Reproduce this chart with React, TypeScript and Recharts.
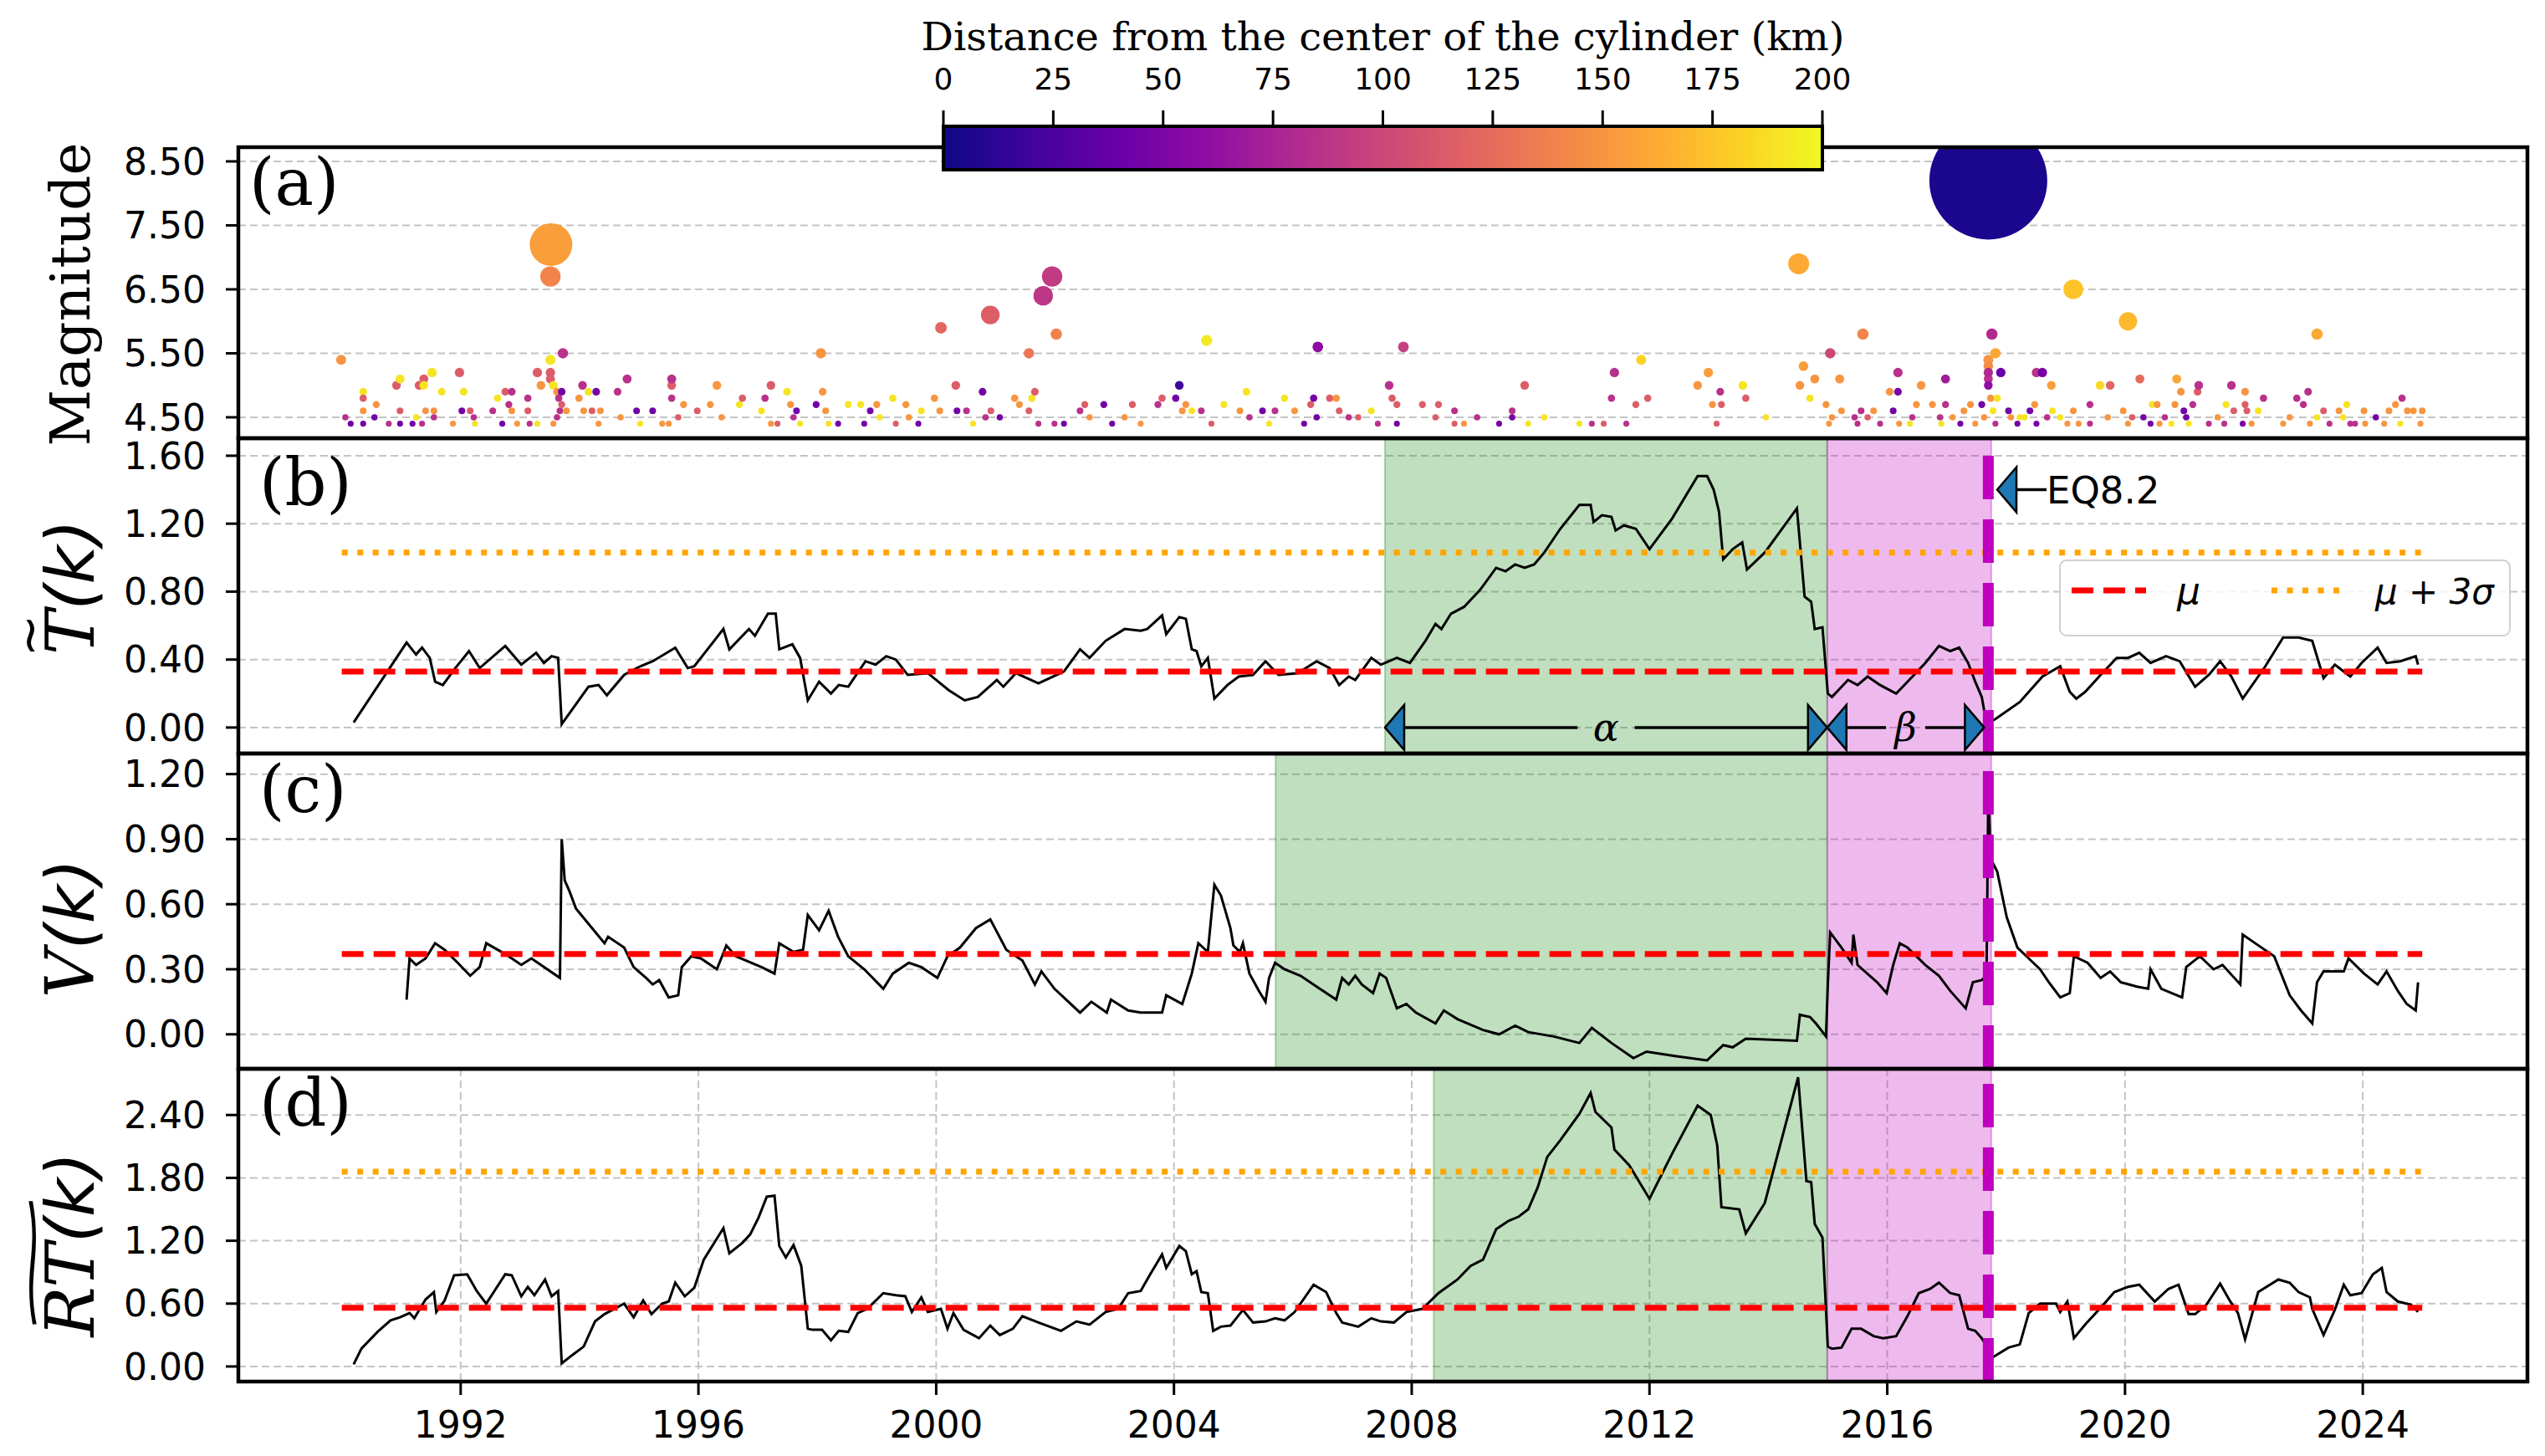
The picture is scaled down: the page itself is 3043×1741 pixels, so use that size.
import React from 'react'
import {
  CartesianGrid, Line, LineChart, ReferenceArea, ReferenceDot, ReferenceLine,
  Scatter, ScatterChart, XAxis, YAxis,
} from 'recharts'

// ---- data ----

const YEAR_TICKS = [1992, 1996, 2000, 2004, 2008, 2012, 2016, 2020, 2024]
const MAG_TICKS = [4.5, 5.5, 6.5, 7.5, 8.5]
const T_TICKS = [0, 0.4, 0.8, 1.2, 1.6]
const V_TICKS = [0, 0.3, 0.6, 0.9, 1.2]
const RT_TICKS = [0, 0.6, 1.2, 1.8, 2.4]
const DIST_TICKS = [0, 25, 50, 75, 100, 125, 150, 175, 200]

// earthquakes: [decimal year, magnitude, distance from cylinder centre (km)]
const quakes1990s = [
  [1989.99, 5.4, 150], [1990.06, 4.5, 85], [1990.15, 4.4, 45], [1990.36, 4.4, 45], [1990.36, 4.9, 190], [1990.36, 4.8, 115],
  [1990.36, 4.6, 150], [1990.55, 4.5, 45], [1990.58, 4.7, 150], [1990.79, 4.4, 85], [1990.92, 5.0, 115], [1990.98, 5.1, 190],
  [1990.98, 4.6, 115], [1990.98, 4.4, 45], [1991.19, 4.4, 45], [1991.25, 4.5, 190], [1991.30, 5.0, 115], [1991.38, 5.1, 115],
  [1991.38, 5.0, 190], [1991.35, 4.4, 85], [1991.41, 4.6, 150], [1991.52, 5.2, 190], [1991.55, 4.6, 150], [1991.55, 4.5, 85],
  [1991.68, 4.9, 190], [1991.87, 4.4, 150], [1991.98, 5.2, 115], [1992.02, 4.6, 45], [1992.05, 4.9, 190], [1992.16, 4.6, 115],
  [1992.22, 4.5, 85], [1992.24, 4.4, 190], [1992.54, 4.6, 85], [1992.62, 4.8, 190], [1992.70, 4.4, 45], [1992.75, 4.9, 115],
  [1992.81, 4.7, 85], [1992.86, 4.6, 150], [1992.86, 4.9, 85], [1992.95, 4.4, 150], [1993.13, 4.8, 85], [1993.13, 4.6, 115],
  [1993.16, 4.4, 85], [1993.29, 5.2, 115], [1993.29, 4.4, 190], [1993.35, 5.0, 150], [1993.51, 5.2, 115], [1993.51, 5.1, 115],
  [1993.51, 5.4, 190], [1993.56, 5.0, 190], [1993.56, 4.4, 150], [1993.62, 4.9, 150], [1993.62, 4.5, 85], [1993.65, 4.8, 85],
  [1993.67, 4.6, 85], [1993.70, 4.9, 45], [1993.70, 4.7, 115], [1993.72, 5.5, 85], [1993.78, 4.6, 150], [1993.51, 6.7, 140],
  [1993.52, 7.2, 155], [1993.99, 4.8, 150], [1994.05, 5.0, 85], [1994.07, 4.6, 150], [1994.15, 4.9, 190], [1994.21, 4.6, 115],
  [1994.28, 4.9, 45], [1994.32, 4.4, 150], [1994.35, 4.6, 150], [1994.64, 4.9, 85], [1994.69, 4.5, 150], [1994.80, 5.1, 85],
  [1994.96, 4.6, 45], [1995.02, 4.4, 190], [1995.23, 4.6, 45], [1995.39, 4.4, 150], [1995.50, 4.4, 150], [1995.55, 5.0, 115],
  [1995.55, 5.1, 85], [1995.55, 4.8, 85], [1995.66, 4.5, 115], [1995.75, 4.7, 150], [1995.98, 4.6, 115], [1996.20, 4.7, 150],
  [1996.31, 5.0, 150], [1996.39, 4.5, 150], [1996.69, 4.7, 190], [1996.74, 4.8, 115], [1997.06, 4.6, 190], [1997.12, 4.8, 85],
  [1997.22, 5.0, 115], [1997.22, 4.4, 150], [1997.33, 4.4, 115], [1997.49, 4.9, 190], [1997.55, 4.7, 150], [1997.60, 4.5, 85],
  [1997.65, 4.6, 45], [1997.71, 4.4, 190], [1997.98, 4.7, 45], [1998.06, 5.5, 150], [1998.09, 4.9, 150], [1998.14, 4.6, 150],
  [1998.19, 4.4, 190], [1998.35, 4.4, 45], [1998.52, 4.7, 190], [1998.73, 4.7, 190], [1998.79, 4.4, 45], [1998.89, 4.6, 45],
  [1999.00, 4.7, 150], [1999.05, 4.5, 190], [1999.27, 4.8, 190], [1999.32, 4.4, 115], [1999.49, 4.7, 150], [1999.54, 4.5, 150],
  [1999.70, 4.4, 45], [1999.75, 4.6, 190], [1999.97, 4.8, 150],
]

const quakes2000s = [
  [2000.06, 4.6, 150], [2000.08, 5.9, 122], [2000.33, 5.0, 115], [2000.35, 4.6, 45], [2000.51, 4.6, 85], [2000.62, 4.4, 190],
  [2000.78, 4.9, 45], [2000.83, 4.5, 85], [2000.92, 4.6, 115], [2000.91, 6.1, 116], [2001.07, 4.5, 45], [2001.32, 4.8, 150],
  [2001.40, 4.7, 150], [2001.56, 4.6, 115], [2001.56, 5.5, 132], [2001.61, 4.8, 190], [2001.66, 4.9, 115], [2001.72, 4.4, 85],
  [2001.80, 6.4, 88], [2001.95, 6.7, 92], [2002.02, 5.8, 138], [2001.99, 4.4, 85], [2002.15, 4.4, 45], [2002.42, 4.6, 85],
  [2002.50, 4.7, 115], [2002.58, 4.5, 150], [2002.82, 4.7, 45], [2002.96, 4.4, 45], [2003.17, 4.5, 150], [2003.30, 4.7, 115],
  [2003.44, 4.4, 150], [2003.73, 4.7, 85], [2003.80, 4.8, 115], [2004.03, 4.8, 45], [2004.09, 5.0, 20], [2004.14, 4.6, 150],
  [2004.20, 4.7, 150], [2004.30, 4.6, 190], [2004.46, 4.6, 85], [2004.55, 5.7, 192], [2004.63, 4.4, 115], [2004.84, 4.7, 190],
  [2005.11, 4.6, 150], [2005.22, 4.9, 190], [2005.27, 4.5, 85], [2005.49, 4.6, 45], [2005.60, 4.4, 190], [2005.70, 4.6, 85],
  [2005.86, 4.8, 190], [2006.03, 4.6, 150], [2006.19, 4.4, 45], [2006.30, 4.7, 115], [2006.35, 4.8, 45], [2006.40, 4.5, 45],
  [2006.42, 5.6, 60], [2006.62, 4.8, 115], [2006.73, 4.8, 150], [2006.78, 4.6, 115], [2006.94, 4.5, 85], [2007.10, 4.5, 115],
  [2007.32, 4.6, 190], [2007.43, 4.4, 85], [2007.62, 5.0, 85], [2007.67, 4.8, 115], [2007.75, 4.7, 115], [2007.75, 4.4, 45],
  [2007.86, 5.6, 95], [2008.18, 4.7, 115], [2008.40, 4.5, 115], [2008.45, 4.7, 115], [2008.72, 4.6, 85], [2008.72, 4.4, 115],
  [2008.88, 4.4, 150], [2009.10, 4.5, 85], [2009.47, 4.4, 45], [2009.69, 4.6, 85], [2009.69, 4.5, 45], [2009.90, 5.0, 115],
  [2009.96, 4.4, 190],
]

const quakes2010s = [
  [2010.23, 4.5, 190], [2010.82, 4.4, 190], [2011.03, 4.4, 85], [2011.23, 4.4, 115], [2011.36, 4.8, 85], [2011.41, 5.2, 85],
  [2011.61, 4.4, 85], [2011.77, 4.7, 115], [2011.86, 5.4, 182], [2011.97, 4.8, 115], [2012.81, 5.0, 150], [2012.99, 5.2, 155],
  [2013.06, 4.7, 150], [2013.13, 4.4, 115], [2013.19, 4.9, 85], [2013.21, 4.7, 115], [2013.57, 5.0, 190], [2013.62, 4.8, 115],
  [2013.96, 4.5, 190], [2014.51, 6.9, 162], [2014.53, 5.0, 150], [2014.59, 5.3, 155], [2014.70, 4.8, 190], [2014.78, 5.1, 150],
  [2014.97, 4.7, 150], [2015.02, 4.4, 150], [2015.04, 5.5, 100], [2015.07, 4.5, 150], [2015.20, 5.1, 150], [2015.23, 4.6, 150],
  [2015.45, 4.5, 85], [2015.50, 4.4, 85], [2015.56, 4.6, 85], [2015.59, 5.8, 140], [2015.67, 4.5, 115], [2015.77, 4.6, 150],
  [2015.88, 4.4, 85], [2016.04, 4.9, 150], [2016.10, 4.6, 45], [2016.18, 5.2, 85], [2016.18, 4.9, 45], [2016.20, 4.4, 150],
  [2016.38, 4.4, 190], [2016.42, 4.5, 85], [2016.49, 4.7, 150], [2016.57, 5.0, 150], [2016.76, 4.7, 150], [2016.89, 4.5, 85],
  [2016.91, 4.4, 190], [2016.98, 5.1, 70], [2016.98, 4.7, 85], [2017.10, 4.5, 150], [2017.23, 4.4, 45], [2017.29, 4.6, 150],
  [2017.40, 4.7, 150], [2017.48, 4.4, 150], [2017.59, 4.7, 45], [2017.63, 4.5, 150], [2017.70, 5.4, 150], [2017.70, 5.3, 145],
  [2017.70, 5.1, 85], [2017.70, 5.0, 60], [2017.70, 5.2, 80], [2017.74, 4.8, 150], [2017.76, 5.8, 80], [2017.78, 4.6, 190],
  [2017.82, 5.5, 160], [2017.82, 4.4, 85], [2017.85, 4.8, 190], [2017.91, 5.2, 40], [2018.04, 4.6, 45], [2018.08, 4.5, 150],
  [2018.19, 4.4, 45], [2018.23, 4.5, 190], [2018.31, 4.5, 190], [2018.40, 4.6, 45], [2018.48, 4.7, 150], [2018.51, 5.2, 85],
  [2018.51, 4.4, 45], [2018.61, 5.2, 45], [2018.69, 4.5, 85], [2018.76, 5.0, 155], [2018.78, 4.6, 190], [2018.91, 4.5, 190],
  [2019.03, 4.4, 150], [2019.13, 6.5, 175], [2019.13, 4.6, 150], [2019.22, 4.4, 150], [2019.41, 4.7, 85], [2019.41, 4.4, 85],
  [2019.58, 5.0, 185], [2019.71, 4.5, 150], [2019.75, 5.0, 120], [2019.97, 4.6, 150], [2017.70, 8.2, 5],
]

const quakes2020s = [
  [2020.05, 6.0, 170], [2020.05, 4.4, 150], [2020.12, 4.5, 115], [2020.25, 5.1, 125], [2020.31, 4.5, 45], [2020.43, 4.4, 45],
  [2020.46, 4.7, 190], [2020.54, 4.7, 150], [2020.58, 4.4, 150], [2020.67, 4.5, 85], [2020.78, 4.4, 190], [2020.84, 4.7, 150],
  [2020.87, 5.1, 160], [2020.94, 4.9, 150], [2020.99, 4.6, 45], [2021.03, 4.5, 45], [2021.07, 4.4, 190], [2021.14, 4.7, 85],
  [2021.22, 4.9, 115], [2021.24, 5.0, 85], [2021.41, 4.4, 85], [2021.56, 4.5, 150], [2021.67, 4.4, 85], [2021.70, 4.7, 190],
  [2021.79, 5.0, 85], [2021.83, 4.6, 115], [2021.98, 4.4, 45], [2022.02, 4.9, 150], [2022.02, 4.7, 115], [2022.05, 4.6, 115],
  [2022.13, 4.4, 150], [2022.24, 4.6, 190], [2022.33, 4.8, 85], [2022.66, 4.4, 150], [2022.77, 4.5, 150], [2022.89, 4.8, 85],
  [2023.00, 4.7, 85], [2023.08, 4.9, 85], [2023.11, 4.4, 150], [2023.23, 5.8, 162], [2023.23, 4.5, 190], [2023.34, 4.6, 115],
  [2023.44, 4.4, 85], [2023.60, 4.6, 150], [2023.67, 4.5, 190], [2023.73, 4.7, 190], [2023.79, 4.4, 85], [2023.87, 4.4, 85],
  [2024.02, 4.6, 150], [2024.04, 4.4, 150], [2024.22, 4.5, 45], [2024.36, 4.4, 150], [2024.44, 4.6, 150], [2024.55, 4.7, 150],
  [2024.63, 4.4, 190], [2024.66, 4.8, 85], [2024.75, 4.6, 150], [2024.85, 4.6, 150], [2024.97, 4.4, 150], [2025.00, 4.6, 150],
]

// (b) T~(k): [year, value]
const tSeries = [
  [1990.20, 0.03], [1991.09, 0.50], [1991.25, 0.43], [1991.35, 0.47], [1991.48, 0.41], [1991.57, 0.27], [1991.70, 0.25],
  [1991.91, 0.35], [1992.14, 0.45], [1992.32, 0.35], [1992.75, 0.48], [1993.02, 0.37], [1993.27, 0.44], [1993.40, 0.38],
  [1993.53, 0.42], [1993.64, 0.41], [1993.70, 0.02], [1994.15, 0.24], [1994.32, 0.25], [1994.46, 0.19], [1994.75, 0.31],
  [1995.02, 0.36], [1995.23, 0.39], [1995.61, 0.47], [1995.82, 0.35], [1995.93, 0.36], [1996.42, 0.58], [1996.52, 0.46],
  [1996.85, 0.58], [1996.95, 0.54], [1997.17, 0.67], [1997.30, 0.67], [1997.36, 0.46], [1997.58, 0.49], [1997.71, 0.41],
  [1997.84, 0.16], [1998.03, 0.27], [1998.23, 0.20], [1998.36, 0.25], [1998.52, 0.24], [1998.81, 0.39], [1998.98, 0.37],
  [1999.16, 0.42], [1999.32, 0.40], [1999.52, 0.31], [1999.86, 0.32], [2000.21, 0.22], [2000.48, 0.16], [2000.70, 0.18],
  [2001.02, 0.28], [2001.13, 0.24], [2001.34, 0.32], [2001.72, 0.26], [2002.15, 0.33], [2002.42, 0.46], [2002.58, 0.41],
  [2002.85, 0.51], [2003.17, 0.58], [2003.44, 0.57], [2003.55, 0.58], [2003.80, 0.66], [2003.87, 0.55], [2004.09, 0.65],
  [2004.20, 0.64], [2004.30, 0.46], [2004.38, 0.45], [2004.46, 0.36], [2004.57, 0.41], [2004.68, 0.17], [2004.90, 0.25],
  [2005.09, 0.30], [2005.33, 0.31], [2005.54, 0.39], [2005.76, 0.31], [2006.08, 0.32], [2006.40, 0.39], [2006.62, 0.35],
  [2006.78, 0.25], [2006.94, 0.30], [2007.05, 0.28], [2007.32, 0.41], [2007.48, 0.37], [2007.75, 0.41], [2007.97, 0.38],
  [2008.23, 0.51], [2008.40, 0.61], [2008.50, 0.58], [2008.66, 0.67], [2008.88, 0.71], [2009.15, 0.81], [2009.42, 0.94],
  [2009.58, 0.92], [2009.74, 0.96], [2009.90, 0.94], [2010.06, 0.96], [2010.23, 1.03], [2010.50, 1.17], [2010.82, 1.31],
  [2011.01, 1.31], [2011.06, 1.21], [2011.20, 1.25], [2011.36, 1.24], [2011.43, 1.16], [2011.57, 1.19], [2011.77, 1.17],
  [2012.00, 1.05], [2012.38, 1.23], [2012.81, 1.48], [2012.97, 1.48], [2013.08, 1.40], [2013.17, 1.27], [2013.24, 0.99],
  [2013.40, 1.05], [2013.56, 1.09], [2013.64, 0.93], [2013.94, 1.03], [2014.48, 1.29], [2014.61, 0.77], [2014.72, 0.74],
  [2014.78, 0.58], [2014.91, 0.59], [2015.00, 0.20], [2015.07, 0.18], [2015.34, 0.28], [2015.50, 0.25], [2015.67, 0.30],
  [2015.88, 0.25], [2016.15, 0.20], [2016.37, 0.28], [2016.64, 0.38], [2016.87, 0.48], [2017.06, 0.45], [2017.21, 0.47],
  [2017.36, 0.38], [2017.48, 0.27], [2017.59, 0.18], [2017.67, 0.02], [2017.82, 0.05], [2018.23, 0.15], [2018.61, 0.30],
  [2018.91, 0.36], [2019.07, 0.21], [2019.18, 0.17], [2019.33, 0.21], [2019.59, 0.31], [2019.86, 0.41], [2020.05, 0.41],
  [2020.24, 0.44], [2020.43, 0.38], [2020.69, 0.42], [2020.92, 0.39], [2021.18, 0.24], [2021.41, 0.31], [2021.60, 0.39],
  [2021.79, 0.30], [2021.98, 0.17], [2022.36, 0.36], [2022.66, 0.53], [2022.92, 0.53], [2023.15, 0.51], [2023.34, 0.29],
  [2023.53, 0.37], [2023.79, 0.30], [2023.98, 0.38], [2024.25, 0.47], [2024.40, 0.38], [2024.63, 0.39], [2024.89, 0.42],
  [2024.93, 0.37],
]

// (c) V(k)
const vSeries = [
  [1991.09, 0.16], [1991.14, 0.35], [1991.25, 0.32], [1991.41, 0.35], [1991.57, 0.42], [1991.73, 0.39], [1991.95, 0.33],
  [1992.16, 0.27], [1992.32, 0.31], [1992.43, 0.42], [1992.75, 0.37], [1993.02, 0.32], [1993.19, 0.35], [1993.67, 0.26],
  [1993.70, 0.90], [1993.75, 0.71], [1993.83, 0.66], [1993.94, 0.58], [1994.21, 0.49], [1994.42, 0.42], [1994.48, 0.45],
  [1994.75, 0.40], [1994.91, 0.31], [1995.12, 0.26], [1995.23, 0.23], [1995.34, 0.25], [1995.50, 0.17], [1995.66, 0.18],
  [1995.72, 0.31], [1995.88, 0.36], [1996.04, 0.35], [1996.31, 0.30], [1996.47, 0.41], [1996.63, 0.36], [1997.06, 0.31],
  [1997.28, 0.28], [1997.36, 0.42], [1997.60, 0.38], [1997.76, 0.39], [1997.84, 0.55], [1998.03, 0.48], [1998.19, 0.57],
  [1998.35, 0.45], [1998.52, 0.36], [1998.79, 0.30], [1999.11, 0.21], [1999.27, 0.28], [1999.54, 0.33], [1999.75, 0.31],
  [2000.02, 0.26], [2000.19, 0.36], [2000.40, 0.40], [2000.67, 0.49], [2000.91, 0.53], [2001.18, 0.39], [2001.45, 0.34],
  [2001.66, 0.23], [2001.77, 0.29], [2001.99, 0.21], [2002.42, 0.10], [2002.61, 0.15], [2002.87, 0.10], [2002.94, 0.16],
  [2003.23, 0.11], [2003.44, 0.10], [2003.80, 0.10], [2003.87, 0.18], [2004.14, 0.14], [2004.30, 0.28], [2004.41, 0.42],
  [2004.57, 0.38], [2004.68, 0.69], [2004.79, 0.64], [2004.95, 0.49], [2005.00, 0.41], [2005.11, 0.38], [2005.16, 0.42],
  [2005.27, 0.28], [2005.43, 0.20], [2005.54, 0.15], [2005.60, 0.26], [2005.70, 0.33], [2005.86, 0.30], [2006.13, 0.27],
  [2006.40, 0.22], [2006.73, 0.16], [2006.83, 0.26], [2006.94, 0.23], [2007.05, 0.27], [2007.16, 0.23], [2007.35, 0.19],
  [2007.46, 0.28], [2007.57, 0.26], [2007.75, 0.12], [2007.91, 0.14], [2008.07, 0.10], [2008.40, 0.05], [2008.54, 0.11],
  [2008.77, 0.07], [2009.20, 0.02], [2009.47, 0.00], [2009.74, 0.04], [2009.96, 0.01], [2010.39, -0.01], [2010.82, -0.04],
  [2011.03, 0.03], [2011.36, -0.04], [2011.73, -0.11], [2011.95, -0.08], [2012.43, -0.10], [2012.97, -0.12], [2013.24, -0.05],
  [2013.40, -0.06], [2013.62, -0.02], [2014.48, -0.03], [2014.53, 0.09], [2014.70, 0.08], [2014.80, 0.05], [2014.97, -0.01],
  [2015.00, 0.23], [2015.04, 0.47], [2015.23, 0.40], [2015.40, 0.33], [2015.43, 0.46], [2015.50, 0.32], [2015.83, 0.24],
  [2015.99, 0.19], [2016.10, 0.32], [2016.21, 0.42], [2016.34, 0.40], [2016.64, 0.32], [2016.87, 0.27], [2017.06, 0.20],
  [2017.32, 0.12], [2017.44, 0.24], [2017.59, 0.25], [2017.67, 0.27], [2017.70, 1.12], [2017.74, 0.81], [2017.85, 0.75],
  [2018.01, 0.54], [2018.19, 0.40], [2018.38, 0.35], [2018.57, 0.30], [2018.72, 0.24], [2018.91, 0.17], [2019.07, 0.19],
  [2019.14, 0.36], [2019.37, 0.33], [2019.59, 0.26], [2019.75, 0.29], [2019.93, 0.24], [2020.20, 0.22], [2020.39, 0.21],
  [2020.43, 0.30], [2020.61, 0.21], [2020.96, 0.17], [2021.03, 0.31], [2021.26, 0.36], [2021.49, 0.30], [2021.64, 0.32],
  [2021.94, 0.23], [2021.98, 0.46], [2022.19, 0.42], [2022.51, 0.36], [2022.77, 0.18], [2022.96, 0.11], [2023.15, 0.05],
  [2023.23, 0.24], [2023.34, 0.29], [2023.68, 0.29], [2023.76, 0.35], [2024.02, 0.28], [2024.25, 0.23], [2024.40, 0.29],
  [2024.59, 0.20], [2024.74, 0.14], [2024.89, 0.11], [2024.93, 0.24],
]

// (d) RT~(k)
const rtSeries = [
  [1990.20, 0.02], [1990.33, 0.17], [1990.60, 0.33], [1990.82, 0.44], [1990.98, 0.47], [1991.14, 0.51], [1991.22, 0.46],
  [1991.41, 0.64], [1991.55, 0.71], [1991.59, 0.52], [1991.73, 0.63], [1991.89, 0.87], [1992.11, 0.88], [1992.27, 0.72],
  [1992.43, 0.60], [1992.75, 0.88], [1992.86, 0.87], [1993.02, 0.67], [1993.13, 0.76], [1993.24, 0.68], [1993.42, 0.83],
  [1993.53, 0.67], [1993.64, 0.72], [1993.70, 0.03], [1993.88, 0.11], [1994.07, 0.19], [1994.26, 0.43], [1994.42, 0.50],
  [1994.59, 0.55], [1994.75, 0.60], [1994.91, 0.47], [1995.07, 0.63], [1995.21, 0.50], [1995.39, 0.60], [1995.50, 0.62],
  [1995.61, 0.80], [1995.77, 0.67], [1995.93, 0.75], [1996.09, 1.02], [1996.42, 1.32], [1996.52, 1.08], [1996.74, 1.18],
  [1996.87, 1.26], [1997.01, 1.42], [1997.15, 1.62], [1997.28, 1.63], [1997.36, 1.15], [1997.47, 1.04], [1997.60, 1.16],
  [1997.73, 0.96], [1997.84, 0.36], [1997.92, 0.35], [1998.08, 0.35], [1998.23, 0.25], [1998.36, 0.34], [1998.52, 0.33],
  [1998.68, 0.51], [1998.84, 0.55], [1999.11, 0.70], [1999.32, 0.68], [1999.48, 0.67], [1999.59, 0.52], [1999.75, 0.66],
  [1999.86, 0.52], [2000.08, 0.55], [2000.19, 0.36], [2000.29, 0.51], [2000.46, 0.35], [2000.72, 0.27], [2000.91, 0.39],
  [2001.07, 0.30], [2001.29, 0.36], [2001.45, 0.48], [2001.72, 0.42], [2002.10, 0.34], [2002.36, 0.43], [2002.58, 0.40],
  [2002.85, 0.52], [2003.06, 0.55], [2003.23, 0.70], [2003.44, 0.72], [2003.60, 0.88], [2003.80, 1.07], [2003.87, 0.94],
  [2004.09, 1.15], [2004.20, 1.10], [2004.30, 0.88], [2004.38, 0.91], [2004.46, 0.71], [2004.57, 0.70], [2004.66, 0.34],
  [2004.79, 0.38], [2004.95, 0.39], [2005.16, 0.54], [2005.33, 0.42], [2005.54, 0.43], [2005.70, 0.46], [2005.86, 0.44],
  [2006.03, 0.52], [2006.35, 0.78], [2006.56, 0.71], [2006.73, 0.51], [2006.83, 0.42], [2007.10, 0.38], [2007.32, 0.46],
  [2007.48, 0.43], [2007.70, 0.42], [2007.91, 0.52], [2008.18, 0.55], [2008.45, 0.70], [2008.77, 0.83], [2008.99, 0.96],
  [2009.20, 1.02], [2009.42, 1.31], [2009.63, 1.39], [2009.80, 1.43], [2009.96, 1.50], [2010.12, 1.71], [2010.28, 2.00],
  [2010.50, 2.16], [2010.82, 2.41], [2011.01, 2.61], [2011.09, 2.43], [2011.36, 2.28], [2011.41, 2.07], [2011.66, 1.92],
  [2012.00, 1.60], [2012.38, 2.03], [2012.81, 2.49], [2013.03, 2.40], [2013.14, 2.11], [2013.21, 1.52], [2013.51, 1.50],
  [2013.62, 1.27], [2013.94, 1.56], [2014.50, 2.76], [2014.64, 1.77], [2014.72, 1.76], [2014.78, 1.36], [2014.91, 1.23],
  [2015.00, 0.19], [2015.07, 0.17], [2015.23, 0.18], [2015.40, 0.36], [2015.56, 0.36], [2015.77, 0.29], [2015.93, 0.27],
  [2016.15, 0.29], [2016.34, 0.48], [2016.53, 0.70], [2016.72, 0.74], [2016.87, 0.80], [2017.06, 0.70], [2017.21, 0.68],
  [2017.36, 0.36], [2017.48, 0.34], [2017.59, 0.27], [2017.78, 0.09], [2018.04, 0.18], [2018.23, 0.21], [2018.38, 0.51],
  [2018.57, 0.60], [2018.84, 0.60], [2018.91, 0.52], [2019.03, 0.62], [2019.14, 0.27], [2019.33, 0.40], [2019.59, 0.56],
  [2019.82, 0.71], [2020.05, 0.76], [2020.24, 0.78], [2020.50, 0.62], [2020.73, 0.74], [2020.90, 0.78], [2021.07, 0.50],
  [2021.18, 0.50], [2021.37, 0.59], [2021.60, 0.79], [2021.75, 0.64], [2021.90, 0.51], [2022.02, 0.26], [2022.24, 0.71],
  [2022.58, 0.83], [2022.77, 0.80], [2022.92, 0.71], [2023.11, 0.66], [2023.15, 0.55], [2023.34, 0.30], [2023.53, 0.54],
  [2023.68, 0.78], [2023.79, 0.68], [2023.98, 0.70], [2024.17, 0.88], [2024.32, 0.94], [2024.40, 0.71], [2024.59, 0.62],
  [2024.81, 0.59], [2024.93, 0.52],
]

// thresholds and periods
const MU_T = 0.33
const MU3_T = 1.03
const MU_V = 0.37
const MU_RT = 0.56
const MU3_RT = 1.86
const MU_FROM = 1990.0
const MU_TO = 2025.0
const EQ_TIME = 2017.70
const EQ_MAG_LABEL = 'EQ8.2'
const GREEN_FROM_T = 2007.55
const GREEN_FROM_V = 2005.71
const GREEN_FROM_RT = 2008.37
const SPLIT = 2014.99
const PINK_TO = 2017.75
const BETA_TO = 2017.63
const EQ_ARROW_Y = 1.40

// ---- layout ----
const W = 3043
const H = 1741
const AXIS_W = 285
const RIGHT_M = 21
const PAD = 30 // room above/below each plot so tick labels are not clipped
const PLOT_R = W - RIGHT_M
const X_DOMAIN = [1988.26, 2026.77]
const PANEL_A = { top: 176, bottom: 524 }
const PANEL_B = { top: 524, bottom: 901 }
const PANEL_C = { top: 901, bottom: 1278 }
const PANEL_D = { top: 1278, bottom: 1652 }
const CB = { left: 1128, right: 2179, top: 151, bottom: 203 }

const PLASMA = ['#0d0887', '#41049d', '#6a00a8', '#8f0da4', '#b12a90', '#cc4778', '#e16462', '#f2844b', '#fca636', '#fcce25', '#f0f921']

const plasma = (t: number) => {
  const c = Math.max(0, Math.min(1, t)) * 10
  const i = Math.min(9, Math.floor(c))
  const f = c - i
  const a = PLASMA[i], b = PLASMA[i + 1]
  const ch = (s: string, k: number) => parseInt(s.slice(1 + 2 * k, 3 + 2 * k), 16)
  const mix = [0, 1, 2].map(k => Math.round(ch(a, k) + (ch(b, k) - ch(a, k)) * f))
  return `rgb(${mix.join(',')})`
}

// marker radius by magnitude (px)
const SIZE_STEPS = [[4.4, 3.6], [4.9, 4.6], [5.0, 5.2], [5.9, 7], [6.0, 11], [6.9, 12.5], [7.0, 24], [7.2, 25.5], [8.2, 70.5]]
const quakeRadius = (m: number) => {
  if (m <= SIZE_STEPS[0][0]) return SIZE_STEPS[0][1]
  for (let i = 1; i < SIZE_STEPS.length; i++) {
    const [m1, r1] = SIZE_STEPS[i]
    const [m0, r0] = SIZE_STEPS[i - 1]
    if (m <= m1) return r0 + (r1 - r0) * (m - m0) / (m1 - m0)
  }
  return SIZE_STEPS[SIZE_STEPS.length - 1][1]
}

const tickFont = { fontSize: 44, fill: '#000', fontFamily: 'DejaVu Sans' }
const gridProps = { stroke: '#c4c4c4', strokeWidth: 2, strokeDasharray: '9 5' }
const fmt2 = (v: number) => v.toFixed(2)

const QuakeDot = (p: any) => (
  <circle cx={p.cx} cy={p.cy} r={quakeRadius(p.payload.mag)} fill={plasma(p.payload.dist / 200)} />
)

const QuakePanel = () => {
  const rows = [...quakes1990s, ...quakes2000s, ...quakes2010s, ...quakes2020s]
    .map(([year, mag, dist]) => ({ year, mag, dist }))
  const h = PANEL_A.bottom - PANEL_A.top + 2 * PAD
  return (
    <div style={{ position: 'absolute', left: 0, top: PANEL_A.top - PAD }}>
      <ScatterChart width={W} height={h} margin={{ top: PAD, right: RIGHT_M, bottom: PAD, left: 0 }}>
        <CartesianGrid {...gridProps} />
        <XAxis type="number" dataKey="year" domain={X_DOMAIN} ticks={YEAR_TICKS} allowDataOverflow interval={0}
          tick={false} tickLine={false} axisLine={false} height={0} />
        <YAxis type="number" dataKey="mag" domain={[4.173, 8.722]} ticks={MAG_TICKS} allowDataOverflow interval={0}
          width={AXIS_W} tickSize={15} tickMargin={24} tickFormatter={fmt2} tick={tickFont}
          tickLine={{ stroke: '#000', strokeWidth: 3 }} axisLine={false} />
        <Scatter data={rows} shape={QuakeDot} isAnimationActive={false} />
      </ScatterChart>
    </div>
  )
}

const headLeft = (p: any) => (
  <polygon points={`${p.cx},${p.cy} ${p.cx + 23},${p.cy - 27} ${p.cx + 23},${p.cy + 27}`}
    fill="#1f77b4" stroke="#000" strokeWidth={2.5} strokeLinejoin="miter" />
)
const headRight = (p: any) => (
  <polygon points={`${p.cx},${p.cy} ${p.cx - 23},${p.cy - 27} ${p.cx - 23},${p.cy + 27}`}
    fill="#1f77b4" stroke="#000" strokeWidth={2.5} strokeLinejoin="miter" />
)
const greekLabel = (s: string) => (p: any) => (
  <text x={p.cx} y={p.cy + 16} textAnchor="middle" fontFamily="DejaVu Serif" fontStyle="italic" fontSize={46}>{s}</text>
)
const eqLabel = (p: any) => (
  <text x={p.cx} y={p.cy + 16} textAnchor="start" fontFamily="DejaVu Sans" fontSize={45}>{EQ_MAG_LABEL}</text>
)

type PanelProps = {
  box: { top: number, bottom: number }, series: number[][], domain: number[], ticks: number[],
  mu: number, mu3?: number, greenFrom: number, years?: boolean, children?: React.ReactNode,
}

const SeriesPanel = ({ box, series, domain, ticks, mu, mu3, greenFrom, years, children }: PanelProps) => {
  const rows = series.map(([x, y]) => ({ x, y }))
  const h = box.bottom - box.top + PAD + (years ? 90 : PAD)
  return (
    <div style={{ position: 'absolute', left: 0, top: box.top - PAD }}>
      <LineChart width={W} height={h} data={rows} margin={{ top: PAD, right: RIGHT_M, bottom: years ? 0 : PAD, left: 0 }}>
        <ReferenceArea x1={greenFrom} x2={SPLIT} fill="#008000" fillOpacity={0.25}
          stroke="#008000" strokeOpacity={0.3} strokeWidth={2} />
        <ReferenceArea x1={SPLIT} x2={PINK_TO} fill="#bf00bf" fillOpacity={0.27}
          stroke="#bf00bf" strokeOpacity={0.3} strokeWidth={2} />
        <CartesianGrid {...gridProps} />
        {years ? (
          <XAxis type="number" dataKey="x" domain={X_DOMAIN} ticks={YEAR_TICKS} allowDataOverflow interval={0}
            height={90} tickSize={16} tickMargin={20} tick={tickFont}
            tickLine={{ stroke: '#000', strokeWidth: 3 }} axisLine={false} />
        ) : (
          <XAxis type="number" dataKey="x" domain={X_DOMAIN} ticks={YEAR_TICKS} allowDataOverflow interval={0}
            tick={false} tickLine={false} axisLine={false} height={0} />
        )}
        <YAxis type="number" domain={domain} ticks={ticks} allowDataOverflow interval={0} width={AXIS_W}
          tickSize={15} tickMargin={24} tickFormatter={fmt2} tick={tickFont}
          tickLine={{ stroke: '#000', strokeWidth: 3 }} axisLine={false} />
        <Line type="linear" dataKey="y" stroke="#000" strokeWidth={3} dot={false} isAnimationActive={false} />
        <ReferenceLine segment={[{ x: MU_FROM, y: mu }, { x: MU_TO, y: mu }]} stroke="#ff0000"
          strokeWidth={7} strokeDasharray="26 12" />
        {mu3 !== undefined && (
          <ReferenceLine segment={[{ x: MU_FROM, y: mu3 }, { x: MU_TO, y: mu3 }]} stroke="#ffa500"
            strokeWidth={7} strokeDasharray="7 11.5" />
        )}
        <ReferenceLine x={EQ_TIME} stroke="#bf00bf" strokeWidth={13} strokeDasharray="52 24" />
        {children}
      </LineChart>
    </div>
  )
}

const alphaMid = (GREEN_FROM_T + SPLIT) / 2
const betaMid = (SPLIT + BETA_TO) / 2
const shaft = { stroke: '#000', strokeWidth: 3.5 }

const Overlay = () => {
  const cbX = (d: number) => CB.left + (d / 200) * (CB.right - CB.left)
  const panels = [PANEL_A, PANEL_B, PANEL_C, PANEL_D]
  return (
    <svg width={W} height={H} style={{ position: 'absolute', left: 0, top: 0, pointerEvents: 'none' }}>
      <defs>
        <linearGradient id="plasmaGrad" x1="0" x2="1" y1="0" y2="0">
          {PLASMA.map((c, i) => <stop key={i} offset={i / 10} stopColor={c} />)}
        </linearGradient>
      </defs>
      {panels.map((p, i) => (
        <rect key={i} x={AXIS_W} y={p.top} width={PLOT_R - AXIS_W} height={p.bottom - p.top}
          fill="none" stroke="#000" strokeWidth={4.5} />
      ))}

      {/* colorbar */}
      <rect x={CB.left} y={CB.top} width={CB.right - CB.left} height={CB.bottom - CB.top}
        fill="url(#plasmaGrad)" stroke="#000" strokeWidth={4} />
      {DIST_TICKS.map(d => (
        <g key={d}>
          <line x1={cbX(d)} x2={cbX(d)} y1={132} y2={CB.top} stroke="#000" strokeWidth={3} />
          <text x={cbX(d)} y={107} textAnchor="middle" fontFamily="DejaVu Sans" fontSize={36}>{d}</text>
        </g>
      ))}
      <text x={(CB.left + CB.right) / 2} y={60} textAnchor="middle" fontFamily="DejaVu Serif" fontSize={46}
        textLength={1104} lengthAdjust="spacingAndGlyphs">Distance from the center of the cylinder (km)</text>

      {/* panel letters */}
      <text x={298} y={245} fontFamily="DejaVu Serif" fontSize={78}>(a)</text>
      <text x={310} y={604} fontFamily="DejaVu Serif" fontSize={78}>(b)</text>
      <text x={310} y={971} fontFamily="DejaVu Serif" fontSize={78}>(c)</text>
      <text x={310} y={1346} fontFamily="DejaVu Serif" fontSize={78}>(d)</text>

      {/* y labels */}
      <text transform="translate(107,352) rotate(-90)" textAnchor="middle" fontFamily="DejaVu Serif" fontSize={66}>Magnitude</text>
      <g transform="translate(112,702) rotate(-90)">
        <text textAnchor="middle" fontSize={80}>
          <tspan fontFamily="DejaVu Serif" fontStyle="italic">T</tspan>
          <tspan fontFamily="DejaVu Sans" fontStyle="italic">(k)</tspan>
        </text>
        <text x={-58} y={-56} textAnchor="middle" fontFamily="DejaVu Sans" fontSize={60}>~</text>
      </g>
      <g transform="translate(112,1110) rotate(-90)">
        <text textAnchor="middle" fontSize={80}>
          <tspan fontFamily="DejaVu Serif" fontStyle="italic">V</tspan>
          <tspan fontFamily="DejaVu Sans" fontStyle="italic">(k)</tspan>
        </text>
      </g>
      <g transform="translate(112,1488) rotate(-90)">
        <text textAnchor="middle" fontSize={80}>
          <tspan fontFamily="DejaVu Serif" fontStyle="italic">RT</tspan>
          <tspan fontFamily="DejaVu Sans" fontStyle="italic">(k)</tspan>
        </text>
        <text transform="translate(-22,-56) scale(4.2,1)" textAnchor="middle" fontFamily="DejaVu Sans" fontSize={56}>~</text>
      </g>

      {/* legend of panel (b) */}
      <rect x={2463} y={670} width={538} height={90} rx={8} fill="#fff" fillOpacity={0.8} stroke="#d0d0d0" strokeWidth={2} />
      <line x1={2477} x2={2566} y1={706} y2={706} stroke="#ff0000" strokeWidth={7} strokeDasharray="26 12" />
      <text x={2603} y={722} fontFamily="DejaVu Sans" fontStyle="italic" fontSize={44}>μ</text>
      <line x1={2716} x2={2802} y1={706} y2={706} stroke="#ffa500" strokeWidth={7} strokeDasharray="7 11.5" />
      <text x={2840} y={722} fontFamily="DejaVu Sans" fontStyle="italic" fontSize={42}>μ + 3σ</text>
    </svg>
  )
}

const App = () => (
  <div style={{ position: 'absolute', left: 0, top: 0, width: W, height: H, background: '#fff', overflow: 'hidden' }}>
    <QuakePanel />
    <SeriesPanel box={PANEL_B} series={tSeries} domain={[-0.153, 1.703]} ticks={T_TICKS}
      mu={MU_T} mu3={MU3_T} greenFrom={GREEN_FROM_T}>
      <ReferenceLine segment={[{ x: GREEN_FROM_T, y: 0 }, { x: alphaMid - 0.48, y: 0 }]} {...shaft} />
      <ReferenceLine segment={[{ x: alphaMid + 0.48, y: 0 }, { x: SPLIT, y: 0 }]} {...shaft} />
      <ReferenceLine segment={[{ x: SPLIT, y: 0 }, { x: betaMid - 0.33, y: 0 }]} {...shaft} />
      <ReferenceLine segment={[{ x: betaMid + 0.33, y: 0 }, { x: BETA_TO, y: 0 }]} {...shaft} />
      <ReferenceDot x={alphaMid} y={0} shape={greekLabel('α')} />
      <ReferenceDot x={betaMid} y={0} shape={greekLabel('β')} />
      <ReferenceDot x={GREEN_FROM_T} y={0} shape={headLeft} />
      <ReferenceDot x={SPLIT} y={0} shape={headRight} />
      <ReferenceDot x={SPLIT} y={0} shape={headLeft} />
      <ReferenceDot x={BETA_TO} y={0} shape={headRight} />
      <ReferenceLine segment={[{ x: EQ_TIME + 0.15, y: EQ_ARROW_Y }, { x: EQ_TIME + 0.98, y: EQ_ARROW_Y }]} {...shaft} />
      <ReferenceDot x={EQ_TIME + 0.15} y={EQ_ARROW_Y} shape={headLeft} />
      <ReferenceDot x={EQ_TIME + 0.98} y={EQ_ARROW_Y} shape={eqLabel} />
    </SeriesPanel>
    <SeriesPanel box={PANEL_C} series={vSeries} domain={[-0.159, 1.295]} ticks={V_TICKS}
      mu={MU_V} greenFrom={GREEN_FROM_V} />
    <SeriesPanel box={PANEL_D} series={rtSeries} domain={[-0.144, 2.841]} ticks={RT_TICKS}
      mu={MU_RT} mu3={MU3_RT} greenFrom={GREEN_FROM_RT} years />
    <Overlay />
  </div>
)

export default App
